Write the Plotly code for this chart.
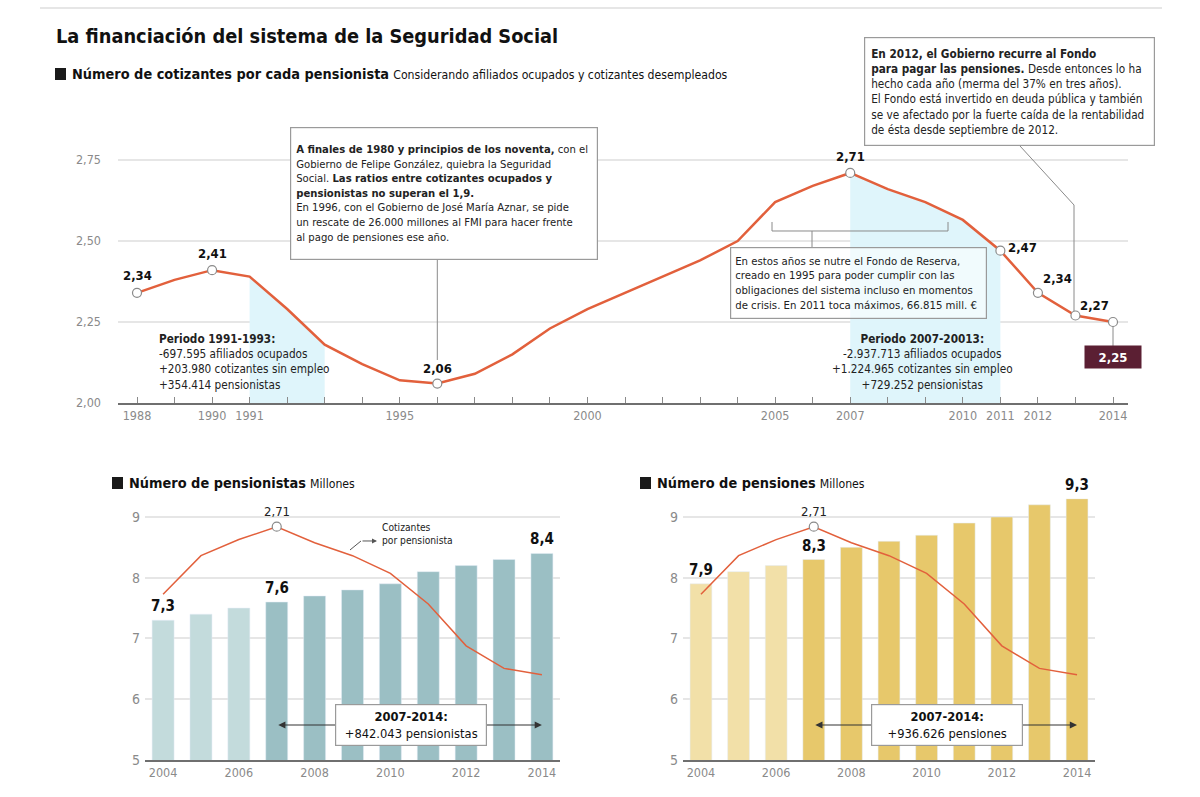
import plotly.graph_objects as go

# ---------------- DATA ----------------
years = list(range(1988, 2015))
ratio = [2.34, 2.38, 2.41, 2.39, 2.29, 2.18, 2.12, 2.07, 2.06, 2.09, 2.15, 2.23, 2.29,
         2.34, 2.39, 2.44, 2.50, 2.62, 2.67, 2.71, 2.66, 2.62, 2.565, 2.47, 2.34, 2.27, 2.25]
top_tick_years = [1988, 1990, 1991, 1995, 2000, 2005, 2007, 2010, 2011, 2012, 2014]
marked_years = [1988, 1990, 1996, 2007, 2011, 2012, 2013, 2014]
shade_1 = (1991, 1993)
shade_2 = (2007, 2011)

bar_years = list(range(2004, 2015))
pensionistas = [7.3, 7.4, 7.5, 7.6, 7.7, 7.8, 7.9, 8.1, 8.2, 8.3, 8.4]
pensiones = [7.9, 8.1, 8.2, 8.3, 8.5, 8.6, 8.7, 8.9, 9.0, 9.2, 9.3]
bar_label_years = [2004, 2007, 2014]
bar_tick_years = [2004, 2006, 2008, 2010, 2012, 2014]

# ---------------- STYLE ----------------
W, H = 1200, 797
SY = 1.0101  # vertical compensation
FONT = "DejaVu Sans Condensed, Liberation Sans Narrow, Roboto, Arial, sans-serif"
LINE = "#e2603c"
SHADE = "#dff5fb"
GRID = "#e6e6e6"
TICKC = "#8a8a8a"
MAROON = "#5b1f33"
TEAL_L, TEAL_D = "#c3dbdc", "#9bbfc4"
GOLD_L, GOLD_D = "#f2e0a8", "#e7c86b"


def px(x):
    return x / W


def py(y):
    return 1 - (y * SY) / H


def fmt(v, d=2):
    return f"{v:.{d}f}".replace(".", ",")


fig = go.Figure()

# ---------------- TOP CHART ----------------
for (a, b) in (shade_1, shade_2):
    xs = [y for y in years if a <= y <= b]
    ys = [ratio[years.index(y)] for y in xs]
    fig.add_trace(go.Scatter(x=xs, y=ys, mode="lines", fill="tozeroy", fillcolor=SHADE,
                             line=dict(width=0), hoverinfo="skip", xaxis="x", yaxis="y"))

fig.add_trace(go.Scatter(x=years, y=ratio, mode="lines", line=dict(color=LINE, width=2.5),
                         xaxis="x", yaxis="y", hoverinfo="skip"))
fig.add_trace(go.Scatter(x=marked_years, y=[ratio[years.index(y)] for y in marked_years],
                         mode="markers",
                         marker=dict(size=9, color="white", line=dict(color="#8a8a8a", width=1.2)),
                         xaxis="x", yaxis="y", hoverinfo="skip"))

# ---------------- BOTTOM CHARTS ----------------
def bar_colors(light, dark):
    return [light if y < 2007 else dark for y in bar_years]


fig.add_trace(go.Bar(x=bar_years, y=pensionistas, marker=dict(color=bar_colors(TEAL_L, TEAL_D)),
                     width=0.58, xaxis="x2", yaxis="y2", hoverinfo="skip"))
fig.add_trace(go.Bar(x=bar_years, y=pensiones, marker=dict(color=bar_colors(GOLD_L, GOLD_D)),
                     width=0.58, xaxis="x3", yaxis="y4", hoverinfo="skip"))

sub_ratio = [ratio[years.index(y)] for y in bar_years]
for xa, ya in (("x2", "y3"), ("x3", "y5")):
    fig.add_trace(go.Scatter(x=bar_years, y=sub_ratio, mode="lines",
                             line=dict(color=LINE, width=1.5), xaxis=xa, yaxis=ya, hoverinfo="skip"))
    fig.add_trace(go.Scatter(x=[2007], y=[ratio[years.index(2007)]], mode="markers",
                             marker=dict(size=9, color="white", line=dict(color="#8a8a8a", width=1.2)),
                             xaxis=xa, yaxis=ya, hoverinfo="skip"))

# axis geometry
top_x_range = [1988 - 19 / 37.54, 2014 + 15 / 37.54]
top_y_range = [2.0, 2.8]
top_y_dom = [py(403), py(403 - 0.8 * 324)]

bar_y_range = [5, 9.3]
bar_y_dom = [py(760), py(760 - 4.3 * 60.75)]
# secondary scale for the ratio overlay (2.71 -> 8.84, 5.3 units per ratio unit)
sec_range = [2.71 - (8.84 - bar_y_range[0]) / 5.3, 2.71 + (bar_y_range[1] - 8.84) / 5.3]
bar_x_range = [2004 - 18 / 37.7, 2014 + 18 / 37.7]

axis_font = dict(family=FONT, size=12.5, color=TICKC)

fig.update_layout(
    width=W, height=H, margin=dict(l=0, r=0, t=0, b=0),
    paper_bgcolor="white", plot_bgcolor="rgba(0,0,0,0)",
    showlegend=False, separators=",.", barmode="overlay",
    font=dict(family=FONT, size=12, color="#222"),
    xaxis=dict(domain=[px(118), px(1128)], range=top_x_range, anchor="y",
               tickmode="array", tickvals=top_tick_years, ticktext=[str(y) for y in top_tick_years],
               ticks="inside", ticklen=6, tickcolor=TICKC, showgrid=False, zeroline=False,
               showline=True, linecolor="#6f6f6f", linewidth=2, tickfont=axis_font,
               minor=dict(tickmode="linear", tick0=1988, dtick=1, ticks="inside", ticklen=6,
                          tickcolor=TICKC, showgrid=False)),
    yaxis=dict(domain=top_y_dom, range=top_y_range, anchor="x", tickvals=[2.0, 2.25, 2.5, 2.75],
               tickformat=".2f", showgrid=True, gridcolor=GRID, gridwidth=1.5, zeroline=False,
               showline=False, ticks="", tickfont=axis_font, ticklabelstandoff=16),
    xaxis2=dict(domain=[px(145), px(560)], range=bar_x_range, anchor="y2",
                tickvals=bar_tick_years, showgrid=False, zeroline=False, showline=True,
                linecolor="#6f6f6f", linewidth=2, ticks="", tickfont=axis_font),
    yaxis2=dict(domain=bar_y_dom, range=bar_y_range, anchor="x2", tickvals=[5, 6, 7, 8, 9],
                showgrid=True, gridcolor=GRID, gridwidth=1.5, zeroline=False, ticks="",
                tickfont=dict(family=FONT, size=14, color=TICKC), ticklabelstandoff=4),
    yaxis3=dict(range=sec_range, overlaying="y2", anchor="x2", visible=False),
    xaxis3=dict(domain=[px(683), px(1095)], range=bar_x_range, anchor="y4",
                tickvals=bar_tick_years, showgrid=False, zeroline=False, showline=True,
                linecolor="#6f6f6f", linewidth=2, ticks="", tickfont=axis_font),
    yaxis4=dict(domain=bar_y_dom, range=bar_y_range, anchor="x3", tickvals=[5, 6, 7, 8, 9],
                showgrid=True, gridcolor=GRID, gridwidth=1.5, zeroline=False, ticks="",
                tickfont=dict(family=FONT, size=14, color=TICKC), ticklabelstandoff=4),
    yaxis5=dict(range=sec_range, overlaying="y4", anchor="x3", visible=False),
)

ann = []
shapes = []


def text(x, y, t, size=12.0, color="#222", xanchor="left", yanchor="middle", align="left", **kw):
    d = dict(x=x, y=y, xref="paper", yref="paper", text=t, showarrow=False,
             font=dict(family=FONT, size=size, color=color), xanchor=xanchor, yanchor=yanchor,
             align=align)
    d.update(kw)
    ann.append(d)


def boxed(x0, y0, x1, y1, t, bg="white", pad=5, size=11.9):
    # annotation box whose outer frame spans pixels (x0,y0)-(x1,y1)
    text(px(x0), py(y0), t, size=size, yanchor="top", bgcolor=bg, bordercolor="#9a9a9a",
         borderwidth=1.2, borderpad=pad, width=x1 - x0 - 2 * pad - 2,
         height=(y1 - y0) * SY - 2 * pad - 2, valign="middle")


# titles
shapes.append(dict(type="line", xref="paper", yref="paper", x0=px(40), x1=px(1162), y0=py(8), y1=py(8),
                   line=dict(color="#e6e6e6", width=2)))
text(px(54), py(37), "<b>La financiación del sistema de la Seguridad Social</b>", size=19.8, color="#111")


def section_title(x, y, bold, light, light_size=12.2):
    shapes.append(dict(type="rect", xref="paper", yref="paper", x0=px(x), x1=px(x + 11),
                       y0=py(y + 6), y1=py(y - 6), fillcolor="#1a1a1a", line=dict(width=0)))
    text(px(x + 15), py(y), f"<b>{bold}</b> <span style='font-size:{light_size}px'>{light}</span>",
         size=14.4, color="#111")


section_title(55, 74, "Número de cotizantes por cada pensionista",
              "Considerando afiliados ocupados y cotizantes desempleados", 12.2)
section_title(112, 483, "Número de pensionistas", "Millones", 12.2)
section_title(640, 483, "Número de pensiones", "Millones", 12.2)

# top chart value labels
top_labels = {1988: (0, -17), 1990: (0, -17), 1996: (0, -15), 2007: (0, -16),
              2011: (22, -3), 2012: (20, -14), 2013: (19, -10)}
for yr, (dx, dy) in top_labels.items():
    v = ratio[years.index(yr)]
    ann.append(dict(x=yr, y=v, xref="x", yref="y", text=f"<b>{fmt(v)}</b>", showarrow=False,
                    xshift=dx, yshift=-dy, font=dict(family=FONT, size=13, color="#111"),
                    xanchor="center", yanchor="middle"))

# 2014 highlighted value
v14 = ratio[-1]
shapes.append(dict(type="line", xref="x", yref="paper", x0=2014, x1=2014, y0=py(326), y1=py(347),
                   line=dict(color="#8a8a8a", width=1)))
ann.append(dict(x=2014, y=py(357), xref="x", yref="paper", text=f"<b>{fmt(v14)}</b>", showarrow=False,
                font=dict(family=FONT, size=13, color="white"), bgcolor=MAROON, width=50, height=16,
                borderpad=3, xanchor="center", yanchor="middle"))

# annotation box 1
boxed(290, 127, 598, 258,
      "<b>A finales de 1980 y principios de los noventa,</b> con el<br>"
      "Gobierno de Felipe González, quiebra la Seguridad<br>"
      "Social. <b>Las ratios entre cotizantes ocupados y<br>"
      "pensionistas no superan el 1,9.</b><br>"
      "En 1996, con el Gobierno de José María Aznar, se pide<br>"
      "un rescate de 26.000 millones al FMI para hacer frente<br>"
      "al pago de pensiones ese año.", size=11.2)
shapes.append(dict(type="line", xref="x", yref="paper", x0=1996, x1=1996, y0=py(258), y1=py(360),
                   line=dict(color="#8a8a8a", width=1)))

# annotation box 2
boxed(864, 37, 1155, 145,
      "<b>En 2012, el Gobierno recurre al Fondo<br>"
      "para pagar las pensiones.</b> Desde entonces lo ha<br>"
      "hecho cada año (merma del 37% en tres años).<br>"
      "El Fondo está invertido en deuda pública y también<br>"
      "se ve afectado por la fuerte caída de la rentabilidad<br>"
      "de ésta desde septiembre de 2012.", pad=6, size=11.7)
shapes.append(dict(type="path", xref="paper", yref="paper",
                   path=f"M {px(1020)},{py(146)} L {px(1074)},{py(205)} L {px(1074)},{py(311)}",
                   line=dict(color="#8a8a8a", width=1)))

# bracket + box 3
shapes.append(dict(type="path", xref="paper", yref="paper",
                   path=(f"M {px(772)},{py(222)} L {px(772)},{py(231)} L {px(948)},{py(231)} "
                         f"L {px(948)},{py(222)} M {px(812)},{py(231)} L {px(812)},{py(248)}"),
                   line=dict(color="#8a8a8a", width=1)))
boxed(730, 247, 987, 318,
      "En estos años se nutre el Fondo de Reserva,<br>"
      "creado en 1995 para poder cumplir con las<br>"
      "obligaciones del sistema incluso en momentos<br>"
      "de crisis. En 2011 toca máximos, 66.815 mill. €",
      bg="rgba(255,255,255,0.55)", pad=4, size=11.3)

# period texts
text(px(157), py(362),
     "<b>Periodo 1991-1993:</b><br>-697.595 afiliados ocupados<br>"
     "+203.980 cotizantes sin empleo<br>+354.414 pensionistas", size=11.7)
text(px(922), py(362),
     "<b>Periodo 2007-20013:</b><br>-2.937.713 afiliados ocupados<br>"
     "+1.224.965 cotizantes sin empleo<br>+729.252 pensionistas",
     size=11.7, xanchor="center", align="center")

# bottom charts annotations
for xa, ya, ysec, vals, box_txt in (
        ("x2", "y2", "y3", pensionistas, "<b>2007-2014:</b><br>+842.043 pensionistas"),
        ("x3", "y4", "y5", pensiones, "<b>2007-2014:</b><br>+936.626 pensiones")):
    for yr in bar_label_years:
        v = vals[bar_years.index(yr)]
        ann.append(dict(x=yr, y=v, xref=xa, yref=ya, text=f"<b>{fmt(v, 1)}</b>", showarrow=False,
                        yanchor="bottom", yshift=3, font=dict(family=FONT, size=15, color="#111")))
    r07 = ratio[years.index(2007)]
    ann.append(dict(x=2007, y=r07, xref=xa, yref=ysec, text=fmt(r07), showarrow=False,
                    yanchor="bottom", yshift=6, font=dict(family=FONT, size=13, color="#222")))
    yarrow = 5 + (760 - 725) / 60.75
    ann.append(dict(x=2014, y=yarrow, xref=xa, yref=ya, ax=2007, ay=yarrow, axref=xa, ayref=ya,
                    text="", showarrow=True, arrowside="end+start", arrowhead=2, arrowsize=1.2,
                    arrowwidth=1.2, arrowcolor="#333"))
    ann.append(dict(x=2010.55, y=yarrow, xref=xa, yref=ya, text=box_txt, showarrow=False,
                    font=dict(family=FONT, size=12.8, color="#111"), bgcolor="white",
                    bordercolor="#9a9a9a", borderwidth=1.2, borderpad=4, align="center",
                    width=142, height=32))

# "Cotizantes por pensionista" label
text(px(380), py(534), "Cotizantes<br>por pensionista", size=10.2, color="#222")
shapes.append(dict(type="line", xref="paper", yref="paper", x0=px(350), x1=px(361), y0=py(550), y1=py(541),
                   line=dict(color="#555", width=1)))
ann.append(dict(x=px(377), y=py(541), xref="paper", yref="paper", ax=-16, ay=0,
                axref="pixel", ayref="pixel", text="", showarrow=True, arrowhead=2, arrowsize=1,
                arrowwidth=1, arrowcolor="#555"))

fig.update_layout(annotations=ann, shapes=shapes)
fig.write_html("out.html", config={"displayModeBar": False},
               post_script="document.body.style.margin='0';")
